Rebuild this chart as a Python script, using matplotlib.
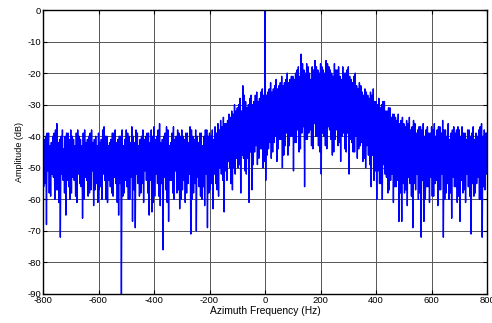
import numpy as np
import matplotlib
matplotlib.use('Agg')
import matplotlib.pyplot as plt

# Spectrum (dB).
# highs: outer maxima every 10 Hz from -800 Hz, inner maxima every 10 Hz from -795 Hz
# lows:  outer minima every 10 Hz from -797.5 Hz, inner minima every 10 Hz from -792.5 Hz
peaks = [
    -37, -40, -39, -42, -39, -36, -41, -38, -40, -39,   # -800 .. -710
    -38, -41, -39, -40, -43, -38, -41, -39, -42, -40,   # -700 .. -610
    -39, -41, -37, -40, -42, -39, -38, -41, -40, -43,   # -600 .. -510
    -38, -40, -37, -42, -39, -41, -38, -40, -39, -38,   # -500 .. -410
    -37, -40, -36, -41, -39, -38, -42, -37, -40, -39,   # -400 .. -310
    -38, -41, -39, -37, -40, -38, -42, -39, -40, -38,   # -300 .. -210
    -39, -38, -37, -36, -35, -34, -36, -33, -32, -30,   # -200 .. -110
    -31, -28, -24, -29, -30, -27, -29, -26, -28, -25,   # -100 .. -10
    0, -26, -23, -25, -22, -24, -21, -23, -20, -22,     # 0 .. 90
    -21, -20, -18, -14, -19, -17, -20, -18, -16, -19,   # 100 .. 190
    -17, -19, -16, -18, -20, -17, -19, -21, -18, -20,   # 200 .. 290
    -18, -22, -21, -24, -23, -26, -25, -27, -26, -25,   # 300 .. 390
    -29, -28, -30, -29, -32, -31, -33, -34, -33, -35,   # 400 .. 490
    -36, -35, -34, -37, -36, -38, -37, -36, -38, -39,   # 500 .. 590
    -37, -36, -38, -37, -35, -38, -36, -39, -37, -38,   # 600 .. 690
    -38, -37, -39, -38, -40, -37, -39, -38, -36, -38,   # 700 .. 790
    -39,                                                # 800
]
peaks_inner = [
    -41, -39, -43, -40, -38, -42, -40, -44, -39, -41,
    -40, -43, -38, -41, -39, -42, -40, -38, -41, -43,
    -42, -38, -40, -43, -41, -39, -42, -40, -38, -41,
    -39, -42, -40, -38, -43, -40, -41, -39, -42, -40,
    -41, -38, -42, -40, -37, -43, -39, -41, -38, -40,
    -40, -39, -42, -38, -41, -40, -39, -43, -38, -40,
    -40, -41, -39, -38, -37, -36, -35, -34, -33, -32,
    -30, -32, -27, -31, -28, -30, -27, -29, -26, -27,
    -27, -25, -26, -24, -25, -23, -24, -22, -23, -21,
    -22, -19, -21, -17, -20, -18, -22, -19, -18, -20,
    -18, -20, -17, -19, -21, -19, -18, -22, -20, -19,
    -21, -23, -20, -25, -24, -27, -26, -28, -27, -29,
    -30, -31, -29, -32, -31, -34, -33, -35, -36, -34,
    -37, -36, -38, -35, -39, -37, -38, -40, -37, -39,
    -38, -40, -37, -39, -38, -40, -41, -38, -39, -37,
    -40, -39, -41, -38, -39, -41, -40, -37, -40, -39,
]
troughs = [
    -56, -68, -58, -52, -60, -57, -72, -54, -65, -56,   # -797.5 .. -707.5
    -58, -54, -61, -55, -66, -53, -59, -57, -62, -55,
    -57, -60, -54, -61, -56, -59, -55, -65, -90, -58,
    -56, -60, -67, -69, -55, -58, -61, -54, -65, -64,
    -59, -55, -62, -76, -57, -67, -54, -60, -58, -63,
    -57, -61, -55, -71, -58, -70, -56, -60, -62, -69,
    -57, -63, -55, -59, -52, -64, -54, -50, -57, -52,
    -50, -58, -47, -52, -61, -57, -45, -49, -44, -50,
    -54, -44, -47, -42, -48, -41, -50, -43, -46, -40,
    -51, -42, -45, -39, -56, -41, -38, -44, -40, -43,
    -52, -40, -44, -38, -46, -41, -43, -48, -39, -45,
    -52, -42, -45, -47, -43, -48, -50, -46, -56, -54,
    -60, -55, -60, -52, -58, -54, -61, -56, -67, -67,
    -58, -62, -55, -69, -57, -60, -72, -67, -56, -61,
    -59, -55, -62, -57, -72, -58, -60, -66, -56, -61,
    -67, -58, -61, -56, -71, -59, -55, -60, -72, -57,
]
troughs_inner = [
    -55, -51, -59, -53, -57, -61, -52, -58, -54, -60,
    -53, -59, -52, -56, -60, -54, -58, -51, -57, -61,
    -56, -52, -60, -54, -58, -53, -61, -55, -59, -54,
    -60, -53, -57, -52, -59, -55, -51, -58, -54, -61,
    -52, -59, -55, -53, -61, -54, -58, -51, -57, -60,
    -54, -58, -52, -60, -55, -53, -59, -56, -52, -58,
    -55, -52, -57, -50, -54, -51, -48, -55, -50, -47,
    -49, -46, -51, -47, -45, -49, -43, -47, -44, -48,
    -46, -42, -45, -40, -44, -41, -46, -39, -43, -40,
    -42, -38, -44, -37, -41, -39, -43, -36, -40, -45,
    -39, -43, -37, -41, -45, -38, -42, -40, -44, -39,
    -41, -45, -40, -44, -42, -47, -43, -49, -46, -51,
    -51, -55, -49, -53, -57, -52, -56, -54, -58, -55,
    -57, -53, -59, -55, -52, -58, -54, -60, -56, -53,
    -59, -54, -57, -52, -60, -55, -58, -53, -56, -59,
    -54, -57, -52, -59, -55, -58, -53, -60, -56, -52,
]

freq = np.concatenate([np.arange(-800, 801, 10.0),
                       np.arange(-795, 800, 10.0),
                       np.arange(-797.5, 800, 10.0),
                       np.arange(-792.5, 800, 10.0)])
amp = np.concatenate([peaks, peaks_inner, troughs, troughs_inner]).astype(float)
order = np.argsort(freq, kind='stable')
freq, amp = freq[order], amp[order]

plt.rcParams['font.family'] = ['Liberation Sans', 'DejaVu Sans']
plt.rcParams['axes.unicode_minus'] = False

fig = plt.figure(figsize=(4.92, 3.23), dpi=100)
ax = fig.add_axes([0.0874, 0.0898, 0.9026, 0.8792])

ax.plot(freq, amp, color='#0000ff', linewidth=1.0)

ax.set_xlim(-800, 800)
ax.set_ylim(-90, 0)
ax.set_xticks(np.arange(-800, 801, 200))
ax.set_yticks(np.arange(-90, 1, 10))
ax.grid(True, color='#555555', linewidth=0.7)
ax.tick_params(direction='in', top=True, right=True, labelsize=6.8,
               length=3, width=0.8, pad=1.5)
for s in ax.spines.values():
    s.set_linewidth(1.0)

ax.set_xlabel('Azimuth Frequency (Hz)', fontsize=7.4, labelpad=1)
ax.set_ylabel('Amplitude (dB)', fontsize=6.5, labelpad=2)

fig.savefig('out.png', dpi=100)
